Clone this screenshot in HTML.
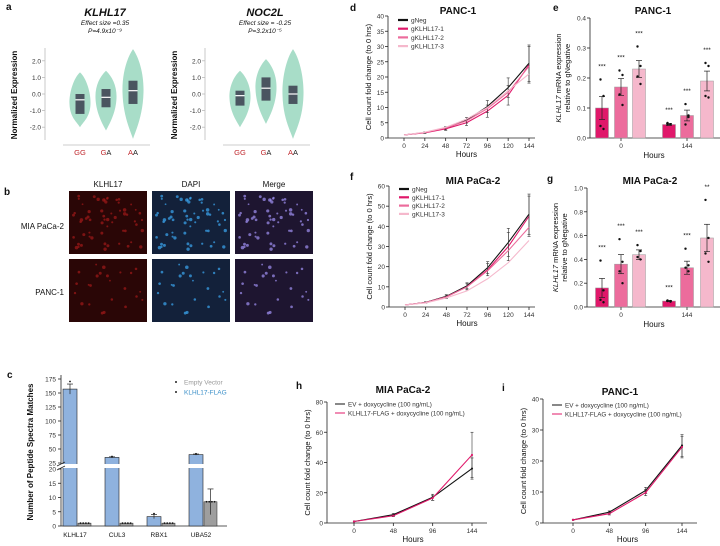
<!DOCTYPE html>
<html><head><meta charset="utf-8"><style>
html,body{margin:0;padding:0;background:#fff;}
svg{display:block;font-family:"Liberation Sans",Arial,sans-serif;}
</style></head><body>
<svg id="fig" width="720" height="546" viewBox="0 0 720 546" xmlns="http://www.w3.org/2000/svg"></svg>
<script>
// ---------- DATA ----------
const aGenotypes = ['GG','GA','AA'];
const aKTop = [1.3,1.4,2.7], aKBot = [-2.0,-2.2,-2.7], aKHi = [0.0,0.3,0.8], aKLo = [-1.2,-0.8,-0.6], aKMed = [-0.35,-0.2,0.2];
const aNTop = [1.4,2.1,2.7], aNBot = [-2.0,-1.8,-2.7], aNHi = [0.2,1.0,0.5], aNLo = [-0.7,-0.4,-0.6], aNMed = [-0.1,0.35,0.0];
const aYTicks = [2,1,0,-1,-2];
const aYTickLabels = ['2.0','1.0','0.0','-1.0','-2.0'];
const cCats = ['KLHL17','CUL3','RBX1','UBA52'];
const cFlag = [157,35,3.3,40];
const cFlagErr = [9,1,0.7,1];
const cEmpty = [1,1,1,8.5];
const cEmptyErr = [0,0,0,4.5];
const cTicksLow = [0,5,10,15,20];
const cTicksHigh = [25,50,75,100,125,150,175];
const growHours = [0,24,48,72,96,120,144];
const dNeg = [1,1.8,3.2,5.8,10.3,16.5,24.5];
const dK1 = [1,1.7,3.0,5.0,8.8,14,24];
const dK2 = [1,1.8,3.3,5.6,9.6,15,23.5];
const dK3 = [1,1.9,3.5,6.2,10,15.5,21];
const dErr = [0,0.2,0.5,0.9,2,3.2,6];
const dYTicks = [0,5,10,15,20,25,30,35,40];
const fNeg = [1,2.3,5.3,10.5,19.5,32,46];
const fK1 = [1,2.2,5,10,18.5,30,45];
const fK2 = [1,2.2,5,10,18,28,39.5];
const fK3 = [1,2,4.5,8,14,22,33];
const fErr = [0,0.3,0.8,1.5,3,7,10];
const fYTicks = [0,10,20,30,40,50,60];
const eVals = [0.10,0.17,0.23,0.045,0.075,0.19];
const eErr = [0.038,0.028,0.028,0.003,0.018,0.033];
const eDots = [[0.195,0.03,0.04,0.14],[0.225,0.21,0.145,0.11],[0.305,0.24,0.205,0.18],[0.05,0.046,0.045,0.046],[0.113,0.075,0.045,0.07],[0.25,0.24,0.14,0.135]];
const eStars = ['***','***','***','***','***','***'];
const eYTicks = [0,0.1,0.2,0.3,0.4];
const gVals = [0.16,0.36,0.44,0.05,0.33,0.58];
const gErr = [0.08,0.08,0.04,0.005,0.055,0.115];
const gDots = [[0.39,0.14,0.06,0.04],[0.57,0.38,0.3,0.2],[0.52,0.47,0.42,0.4],[0.055,0.05,0.05,0.045],[0.49,0.35,0.33,0.3],[0.9,0.58,0.45,0.38]];
const gStars = ['***','***','***','***','***','**'];
const gYTicks = [0,0.2,0.4,0.6,0.8,1.0];
const exprGroups = ['0','144'];
const hHours = [0,48,96,144];
const hEV = [1,5.5,17,36];
const hK = [1,4.8,16.5,45];
const hErrEV = [0,0.8,2,7];
const hErrK = [0,0.6,1.5,15];
const hYTicks = [0,20,40,60,80];
const iEV = [1,3.5,10.5,25];
const iK = [1,3,9.8,24.5];
const iErr = [0,0.4,1,3.5];
const iYTicks = [0,10,20,30,40];

// ---------- HELPERS ----------
const NS='http://www.w3.org/2000/svg';
const svg=document.getElementById('fig');
function mk(tag,attrs,parent,name){
  const el=document.createElementNS(NS,tag);
  for(const k in attrs) el.setAttribute(k,attrs[k]);
  
  
  (parent||svg).appendChild(el);
  return el;
}
function txt(x,y,s,size,opt,parent,name){
  opt=opt||{};
  const t=mk('text',{x:x,y:y,'font-size':size,'text-anchor':opt.anchor||'middle',fill:opt.fill||'#111','font-weight':opt.bold?'bold':'normal','font-style':opt.italic?'italic':'normal'},parent,name||'label');
  if(opt.rot) t.setAttribute('transform','rotate(-90 '+x+' '+y+')');
  t.textContent=s;return t;
}
function line(x1,y1,x2,y2,st,w,parent,name){return mk('line',{x1:x1,y1:y1,x2:x2,y2:y2,stroke:st||'#222','stroke-width':w||0.8},parent,name||'line');}
function panelLetter(x,y,s){txt(x,y,s,10,{bold:true,anchor:'start'},null,'panel-letter-'+s);}

// ---------- PANEL A ----------
panelLetter(6,10,'a');
function violinPanel(ox,title,sub1,sub2,tops,bots,his,los,meds,id){
  const g=mk('g',{},svg,'violin-panel-'+id);
  const yz=94, s=16.6;
  const Y=v=>yz-v*s;
  const cx=[ox+80,ox+106,ox+133];
  txt(ox+105,16,title,11,{bold:true,italic:true},g,'violin-title');
  txt(ox+105,25,sub1,6.5,{italic:true},g,'effect-size');
  txt(ox+105,33,sub2,6.5,{italic:true},g,'p-value');
  line(ox+45,48,ox+45,140,'#bbb',0.8,g,'y-axis');
  aYTicks.forEach((v,i)=>{line(ox+42,Y(v),ox+45,Y(v),'#bbb',0.8,g,'y-tick');txt(ox+41,Y(v)+2.5,aYTickLabels[i],6.5,{anchor:'end',fill:'#333'},g,'y-tick-label');});
  txt(ox+17,95,'Normalized Expression',8,{bold:true,rot:true},g,'y-axis-title');
  line(ox+63,145,ox+150,145,'#bbb',0.8,g,'x-axis');
  aGenotypes.forEach((gt,i)=>{
    const t=bots[i],T=tops[i];
    const yt=Y(T),yb=Y(t),h=yb-yt,w=10.5,c=cx[i];
    const ym=Y((his[i]+los[i])/2);
    mk('path',{d:`M${c},${yt} C${c+w*0.6},${yt+h*0.1} ${c+w*1.05},${ym-h*0.2} ${c+w},${ym} C${c+w*0.95},${ym+h*0.25} ${c+w*0.3},${yb-h*0.1} ${c},${yb} C${c-w*0.3},${yb-h*0.1} ${c-w*0.95},${ym+h*0.25} ${c-w},${ym} C${c-w*1.05},${ym-h*0.2} ${c-w*0.6},${yt+h*0.1} ${c},${yt}Z`,fill:'#a8ddc8'},g,'violin-'+gt);
    mk('rect',{x:c-4.5,y:Y(his[i]),width:9,height:Y(los[i])-Y(his[i]),fill:'#4a5560'},g,'box-'+gt);
    line(c-4.5,Y(meds[i]),c+4.5,Y(meds[i]),'#fff',1.2,g,'median-'+gt);
    const lb=txt(c,155,'',7.5,{},g,'x-label-'+gt);
    const t1=mk('tspan',{fill:'#c0282d'},lb,'allele');t1.textContent=gt[0];
    const t2=mk('tspan',{fill:gt[1]==='G'?'#c0282d':'#222'},lb,'allele');t2.textContent=gt[1];
  });
}
violinPanel(0,'KLHL17','Effect size =0.35','P=4.9x10\u207B\u2079',aKTop,aKBot,aKHi,aKLo,aKMed,'klhl17');
violinPanel(160,'NOC2L','Effect size = -0.25','P=3.2x10\u207B\u2075',aNTop,aNBot,aNHi,aNLo,aNMed,'noc2l');

// ---------- PANEL B ----------
panelLetter(4,195,'b');
let seed=7;function rnd(){seed=(seed*9301+49297)%233280;return seed/233280;}
const cols=[69,152,235], rows=[191,259];
['KLHL17','DAPI','Merge'].forEach((c,i)=>txt(cols[i]+39,187,c,8,{},null,'column-title'));
txt(64,229,'MIA PaCa-2',8,{anchor:'end'},null,'row-label');
txt(64,295,'PANC-1',8,{anchor:'end'},null,'row-label');
rows.forEach((ry,ri)=>{
  const pts=[];const n=ri===0?60:24;
  for(let k=0;k<n;k++){pts.push([4+rnd()*70,4+rnd()*56,0.9+rnd()*0.9]);}
  cols.forEach((cx,ci)=>{
    const g=mk('g',{},svg,'micrograph');
    mk('rect',{x:cx,y:ry,width:78,height:63,fill:ci===0?'#2a0606':(ci===1?'#13213a':'#1e1530')},g,'image-bg');
    pts.forEach(p=>{
      const col=ci===0?'#9a1818':(ci===1?'#3aa0e8':'#9a8ae8');
      mk('circle',{cx:cx+p[0],cy:ry+p[1],r:p[2],fill:col,opacity:0.75},g,'cell');
    });
  });
});

// ---------- PANEL C ----------
panelLetter(7,378,'c');
const cG=mk('g',{},svg,'peptide-chart');
const yC=v=>v<=20?526-v*2.85:463-(v-25)*0.56;
line(61,375,61,526,'#222',0.8,cG,'y-axis');
line(61,526,227,526,'#222',0.8,cG,'x-axis');
cTicksLow.forEach(v=>{line(58,yC(v),61,yC(v),'#222',0.8,cG,'y-tick');txt(56,yC(v)+2.5,String(v),6.5,{anchor:'end',fill:'#333'},cG,'y-tick-label');});
cTicksHigh.forEach(v=>{line(58,yC(v),61,yC(v),'#222',0.8,cG,'y-tick');txt(56,yC(v)+2.5,String(v),6.5,{anchor:'end',fill:'#333'},cG,'y-tick-label');});
txt(33,452,'Number of Peptide Spectra Matches',8,{bold:true,rot:true},cG,'y-axis-title');
cCats.forEach((c,i)=>{
  const bx=63+i*42;
  mk('rect',{x:bx,y:yC(cFlag[i]),width:14,height:526-yC(cFlag[i]),fill:'#8fb2de',stroke:'#222','stroke-width':0.6},cG,'bar-flag-'+c);
  mk('rect',{x:bx+15,y:yC(cEmpty[i]),width:13,height:526-yC(cEmpty[i]),fill:'#9e9e9e',stroke:'#222','stroke-width':0.5},cG,'bar-empty-'+c);
  if(cFlagErr[i]>0){line(bx+7,yC(cFlag[i]+cFlagErr[i]),bx+7,yC(cFlag[i]-cFlagErr[i]),'#222',0.7,cG,'error-bar');line(bx+4,yC(cFlag[i]+cFlagErr[i]),bx+10,yC(cFlag[i]+cFlagErr[i]),'#222',0.7,cG,'error-cap');}
  if(cEmptyErr[i]>0){line(bx+21.5,yC(cEmpty[i]+cEmptyErr[i]),bx+21.5,yC(cEmpty[i]-cEmptyErr[i]),'#222',0.7,cG,'error-bar');line(bx+18.5,yC(cEmpty[i]+cEmptyErr[i]),bx+24.5,yC(cEmpty[i]+cEmptyErr[i]),'#222',0.7,cG,'error-cap');}
  for(let k=0;k<4;k++){mk('circle',{cx:bx+17.5+k*2.7,cy:yC(cEmpty[i]),r:0.9,fill:'#111'},cG,'dot');}
  mk('circle',{cx:bx+7,cy:yC(cFlag[i]+cFlagErr[i]*1.5),r:0.9,fill:'#111'},cG,'dot');
  txt(bx+12,537,c,6.5,{},cG,'x-label');
});
mk('rect',{x:56,y:464,width:170,height:4,fill:'#fff'},cG,'axis-break');
line(57,466,65,462,'#222',0.7,cG,'break-mark');line(57,470,65,466,'#222',0.7,cG,'break-mark');
mk('circle',{cx:176,cy:382,r:1,fill:'#222'},cG,'legend-dot');
txt(184,384.5,'Empty Vector',6.5,{anchor:'start',fill:'#999'},cG,'legend-entry');
mk('circle',{cx:176,cy:392,r:1,fill:'#222'},cG,'legend-dot');
txt(184,394.5,'KLHL17-FLAG',6.5,{anchor:'start',fill:'#3a8fc8'},cG,'legend-entry');

// ---------- LINE CHARTS ----------
function lineChart(cfg){
  const g=mk('g',{},svg,cfg.name);
  const X=h=>cfg.x0+(h-cfg.hx[0])/(cfg.hx[cfg.hx.length-1]-cfg.hx[0])*(cfg.x1-cfg.x0);
  const Y=v=>cfg.y0-v/cfg.ymax*(cfg.y0-cfg.yTop);
  txt(cfg.titleX,cfg.titleY,cfg.title,10,{bold:true},g,'chart-title');
  line(cfg.ax,cfg.yTop,cfg.ax,cfg.y0,'#222',0.8,g,'y-axis');
  line(cfg.ax,cfg.y0,cfg.axEnd,cfg.y0,'#222',0.8,g,'x-axis');
  cfg.yt.forEach(v=>{line(cfg.ax-3,Y(v),cfg.ax,Y(v),'#222',0.8,g,'y-tick');txt(cfg.ax-4,Y(v)+2.5,String(v),6.5,{anchor:'end',fill:'#333'},g,'y-tick-label');});
  cfg.hx.forEach(h=>{line(X(h),cfg.y0,X(h),cfg.y0+3,'#222',0.8,g,'x-tick');txt(X(h),cfg.y0+10,String(h),6.5,{fill:'#333'},g,'x-tick-label');});
  txt((cfg.x0+cfg.x1)/2,cfg.y0+19,'Hours',8,{},g,'x-axis-title');
  txt(cfg.ax-17,(cfg.yTop+cfg.y0)/2,cfg.ylab,7.5,{rot:true},g,'y-axis-title');
  cfg.series.forEach((s,si)=>{
    mk('polyline',{points:s.v.map((v,i)=>X(cfg.hx[i])+','+Y(v)).join(' '),fill:'none',stroke:s.c,'stroke-width':1.1},g,'series-'+s.n);
    if(s.e) s.v.forEach((v,i)=>{if(s.e[i]>0){line(X(cfg.hx[i]),Y(v+s.e[i]),X(cfg.hx[i]),Y(v-s.e[i]),'#333',0.6,g,'error-bar');line(X(cfg.hx[i])-1.5,Y(v+s.e[i]),X(cfg.hx[i])+1.5,Y(v+s.e[i]),'#333',0.6,g,'error-cap');line(X(cfg.hx[i])-1.5,Y(v-s.e[i]),X(cfg.hx[i])+1.5,Y(v-s.e[i]),'#333',0.6,g,'error-cap');}});
    if(cfg.markers) s.v.forEach((v,i)=>mk('circle',{cx:X(cfg.hx[i]),cy:Y(v),r:1.1,fill:s.c},g,'point'));
    const ly=cfg.legY+si*cfg.legDy;
    line(cfg.legX,ly,cfg.legX+cfg.legW,ly,s.c,cfg.markers?1:2.2,g,'legend-line');
    txt(cfg.legX+cfg.legW+3,ly+2.5,s.n,cfg.legFs,{anchor:'start',fill:'#333'},g,'legend-entry');
  });
}
const C0='#111',C1='#e0186a',C2='#ec6c9c',C3='#f5b8cc';
panelLetter(350,11,'d');
lineChart({name:'panc1-growth-chart',title:'PANC-1',titleX:458,titleY:14,ax:388,axEnd:535,x0:404,x1:529,y0:138,yTop:16,ymax:40,yt:dYTicks,hx:growHours,ylab:'Cell count fold  change (to 0 hrs)',legX:398,legY:20,legDy:8.7,legW:10,legFs:6.5,
  series:[{n:'gNeg',v:dNeg,c:C0,e:dErr},{n:'gKLHL17-1',v:dK1,c:C1,e:dErr},{n:'gKLHL17-2',v:dK2,c:C2},{n:'gKLHL17-3',v:dK3,c:C3}]});
panelLetter(350,180,'f');
lineChart({name:'miapaca-growth-chart',title:'MIA PaCa-2',titleX:473,titleY:184,ax:389,axEnd:535,x0:405,x1:529,y0:307,yTop:186,ymax:60,yt:fYTicks,hx:growHours,ylab:'Cell count fold  change (to 0 hrs)',legX:399,legY:189,legDy:8.3,legW:10,legFs:6.5,
  series:[{n:'gNeg',v:fNeg,c:C0,e:fErr},{n:'gKLHL17-1',v:fK1,c:C1,e:fErr},{n:'gKLHL17-2',v:fK2,c:C2},{n:'gKLHL17-3',v:fK3,c:C3}]});
panelLetter(296,389,'h');
lineChart({name:'miapaca-overexpression-chart',title:'MIA PaCa-2',titleX:403,titleY:393,ax:327,axEnd:487,x0:354,x1:472,y0:523,yTop:402,ymax:80,yt:hYTicks,hx:hHours,ylab:'Cell count fold change (to 0 hrs)',legX:335,legY:404,legDy:9,legW:10,legFs:6.3,markers:true,
  series:[{n:'EV + doxycycline (100 ng/mL)',v:hEV,c:C0,e:hErrEV},{n:'KLHL17-FLAG + doxycycline (100 ng/mL)',v:hK,c:C1,e:hErrK}]});
panelLetter(502,391,'i');
lineChart({name:'panc1-overexpression-chart',title:'PANC-1',titleX:620,titleY:395,ax:543,axEnd:697,x0:573,x1:682,y0:523,yTop:399,ymax:40,yt:iYTicks,hx:hHours,ylab:'Cell count fold change (to 0 hrs)',legX:552,legY:405,legDy:9,legW:10,legFs:6.3,markers:true,
  series:[{n:'EV + doxycycline (100 ng/mL)',v:iEV,c:C0,e:iErr},{n:'KLHL17-FLAG + doxycycline (100 ng/mL)',v:iK,c:C1,e:iErr}]});

// ---------- BAR CHARTS e/g ----------
function exprChart(cfg){
  const g=mk('g',{},svg,cfg.name);
  const Y=v=>cfg.y0-v/cfg.ymax*(cfg.y0-cfg.yTop);
  const bx=[602,621,639,669,687,707], cols=[C1,C2,C3,C1,C2,C3];
  txt(cfg.titleX,cfg.titleY,cfg.title,10,{bold:true},g,'chart-title');
  line(cfg.ax,cfg.yTop,cfg.ax,cfg.y0,'#222',0.8,g,'y-axis');
  line(cfg.ax,cfg.y0,720,cfg.y0,'#222',0.8,g,'x-axis');
  cfg.yt.forEach(v=>{line(cfg.ax-3,Y(v),cfg.ax,Y(v),'#222',0.8,g,'y-tick');txt(cfg.ax-4,Y(v)+2.5,v.toFixed(1),6.5,{anchor:'end',fill:'#333'},g,'y-tick-label');});
  exprGroups.forEach((l,i)=>{const x=bx[i*3+1];line(x,cfg.y0,x,cfg.y0+3,'#222',0.8,g,'x-tick');txt(x,cfg.y0+10,l,6.5,{fill:'#333'},g,'x-tick-label');});
  txt(654,cfg.y0+20,'Hours',8,{},g,'x-axis-title');
  const yl=txt(cfg.ax-29,(cfg.yTop+cfg.y0)/2,'',7.5,{rot:true},g,'y-axis-title');
  const t1=mk('tspan',{'font-style':'italic'},yl,'gene');t1.textContent='KLHL17';
  const t2=mk('tspan',{},yl,'rest');t2.textContent=' mRNA expression';
  txt(cfg.ax-20,(cfg.yTop+cfg.y0)/2,'relative to gNegative',7.5,{rot:true},g,'y-axis-title');
  cfg.vals.forEach((v,i)=>{
    const x=bx[i];
    mk('rect',{x:x-6.5,y:Y(v),width:13,height:cfg.y0-Y(v),fill:cols[i],stroke:'#999','stroke-width':0.5},g,'bar');
    line(x,Y(v-cfg.err[i]),x,Y(v+cfg.err[i]),'#222',0.7,g,'error-bar');
    line(x-3,Y(v+cfg.err[i]),x+3,Y(v+cfg.err[i]),'#222',0.7,g,'error-cap');
    line(x-3,Y(v-cfg.err[i]),x+3,Y(v-cfg.err[i]),'#222',0.7,g,'error-cap');
    cfg.dots[i].forEach((d,k)=>mk('circle',{cx:x+(k%2?1.5:-1.5),cy:Y(d),r:1.2,fill:'#111'},g,'dot'));
    txt(x,Y(Math.max.apply(null,cfg.dots[i].concat([v+cfg.err[i]])))-cfg.starGap,cfg.stars[i],6.5,{},g,'significance');
  });
}
panelLetter(553,11,'e');
exprChart({name:'panc1-expression-chart',title:'PANC-1',titleX:653,titleY:14,ax:590,y0:138,yTop:18,ymax:0.4,yt:eYTicks,vals:eVals,err:eErr,dots:eDots,stars:eStars,starGap:11});
panelLetter(547,182,'g');
exprChart({name:'miapaca-expression-chart',title:'MIA PaCa-2',titleX:650,titleY:184,ax:587,y0:307,yTop:188,ymax:1.0,yt:gYTicks,vals:gVals,err:gErr,dots:gDots,stars:gStars,starGap:11});
</script>
</body></html>
